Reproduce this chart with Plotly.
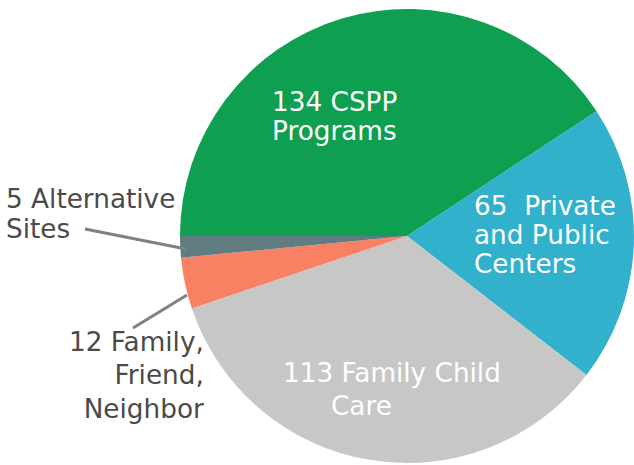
import plotly.graph_objects as go

# ---- data ----
labels = ["CSPP Programs", "Private and Public Centers", "Family Child Care",
          "Family, Friend, Neighbor", "Alternative Sites"]
values = [134, 65, 113, 12, 5]
colors = ["#0F9F51", "#31B1CC", "#C7C7C7", "#F98163", "#5F7D80"]

# label blocks: (lines, anchor, px x, px y of block middle, line pitch px, colour)
label_blocks = [
    (["134 CSPP", "Programs"], "left", 272, 116, 29, "white"),
    (["65\u00a0 Private", "and Public", "Centers"], "left", 474, 235.3, 29, "white"),
    (["113 Family Child"], "left", 283, 373, 32, "white"),
    (["Care"], "left", 331, 406, 32, "white"),
    (["5 Alternative", "Sites"], "left", 6, 213.5, 29.5, "#4A4A4A"),
    (["12 Family,", "Friend,", "Neighbor"], "right", 204, 375.5, 33.5, "#4A4A4A"),
]
leader_lines = [((85, 229), (186, 249)), ((133, 328), (187, 295))]

W, H = 634, 465
L, R, T, B = 180, 0, 9, 2
PW, PH = W - L - R, H - T - B
GLYPH = 26.3
LINE_SPACING = 1.3


def px(x):
    return (x - L) / PW


def py(y):
    return (H - B - y) / PH


fig = go.Figure(go.Pie(
    labels=labels, values=values, sort=False, direction="clockwise",
    rotation=-90, marker=dict(colors=colors, line=dict(width=0)),
    textinfo="none", hoverinfo="skip",
))

font_family = "DejaVu Sans"
annotations = []
for lines, anchor, x, y, pitch, col in label_blocks:
    if len(lines) == 1:
        text, size = lines[0], GLYPH
    else:
        size = pitch / LINE_SPACING
        text = "<br>".join(
            f'<span style="font-size:{GLYPH}px">{ln}</span>' for ln in lines)
    annotations.append(dict(
        text=text, x=px(x), y=py(y), xref="paper", yref="paper",
        xanchor=anchor, yanchor="middle", align=anchor, showarrow=False,
        borderpad=0, borderwidth=0,
        font=dict(family=font_family, size=size, color=col),
    ))

shapes = []
for (x0, y0), (x1, y1) in leader_lines:
    shapes.append(dict(type="line", xref="paper", yref="paper",
                       x0=px(x0), y0=py(y0), x1=px(x1), y1=py(y1),
                       line=dict(color="#808080", width=3)))

fig.update_layout(
    width=W, height=H, showlegend=False,
    margin=dict(l=L, r=R, t=T, b=B),
    paper_bgcolor="white", plot_bgcolor="white",
    annotations=annotations, shapes=shapes,
)

fig.write_html("out.html")
